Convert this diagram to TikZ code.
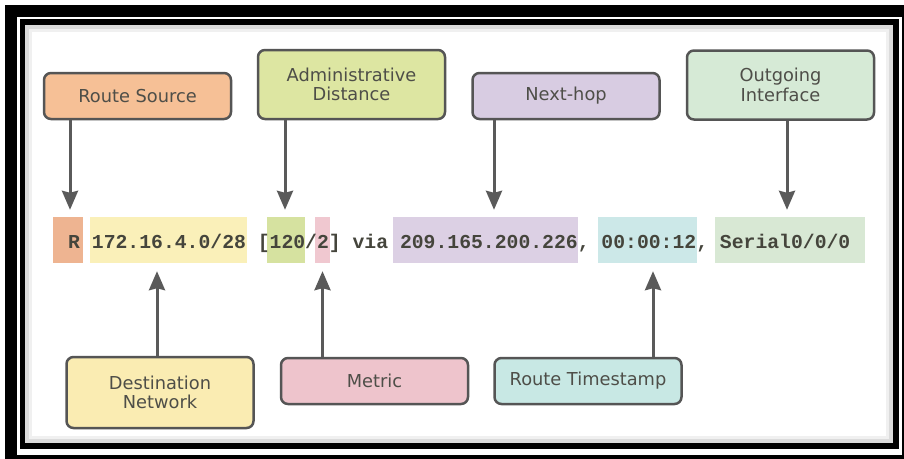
\documentclass[tikz,border=0pt]{standalone}
\usepackage{fontspec}
\setmainfont{DejaVu Sans}
\newfontfamily\codefont{Liberation Mono}
\usetikzlibrary{arrows.meta}

\definecolor{boxline}{HTML}{555555}
\definecolor{arrowgray}{HTML}{5A5A5A}
\definecolor{labeltext}{HTML}{4E4E48}
\definecolor{codetext}{HTML}{45453C}
% label boxes
\definecolor{srcfill}{HTML}{F6C096}
\definecolor{adfill}{HTML}{DDE6A2}
\definecolor{nhfill}{HTML}{D8CCE2}
\definecolor{oifill}{HTML}{D6EAD6}
\definecolor{dnfill}{HTML}{FAECB2}
\definecolor{metfill}{HTML}{EEC4CC}
\definecolor{tsfill}{HTML}{C8E8E4}
% highlights in the route line
\definecolor{hlsrc}{HTML}{EEB491}
\definecolor{hldn}{HTML}{FAF0B9}
\definecolor{hlad}{HTML}{D6E2A0}
\definecolor{hlmet}{HTML}{F0C8D0}
\definecolor{hlnh}{HTML}{DCD0E4}
\definecolor{hlts}{HTML}{CCE8E8}
\definecolor{hloi}{HTML}{D8E8D4}

\begin{document}
\begin{tikzpicture}[x=1pt, y=-1pt,
    lbl/.style={draw=boxline, line width=2.5pt, rounded corners=7pt,
      minimum width=187pt, minimum height=46pt, align=center,
      text=labeltext, font=\fontsize{17.8}{19.5}\selectfont},
    tall/.style={minimum height=69pt},
    hl/.style={minimum height=46pt, inner sep=0pt},
    arr/.style={draw=arrowgray, line width=3pt,
      -{Stealth[width=16pt, length=19pt, inset=2pt]}}]
  \useasboundingbox (0,0) rectangle (904,458);
  \clip (0,0) rectangle (904,458);
  \fill[white] (0,0) rectangle (904,458);

  % Frame
  \draw[line width=12pt] (11,10.5) rectangle (908,461);
  \draw[line width=6pt] (22.5,22) rectangle (895.5,446);
  \draw[line width=4pt, black!14] (27,27) rectangle (891,441);
  \draw[line width=3pt, black!6] (30.5,30.5) rectangle (887.5,437.5);

  % Highlights behind the route line
  \node[hl, fill=hlsrc, minimum width=30pt] (hlR) at (68,240) {};
  \node[hl, fill=hldn, minimum width=157pt] (hlDN) at (168.5,240) {};
  \node[hl, fill=hlad, minimum width=38pt] (hlAD) at (286,240) {};
  \node[hl, fill=hlmet, minimum width=15pt] (hlMet) at (322.5,240) {};
  \node[hl, fill=hlnh, minimum width=185pt] (hlNH) at (485.5,240) {};
  \node[hl, fill=hlts, minimum width=99pt] (hlTS) at (647.5,240) {};
  \node[hl, fill=hloi, minimum width=150pt] (hlOI) at (790,240) {};

  % Route line
  \node[anchor=base west, inner sep=0pt, text=codetext,
    font=\codefont\fontsize{19.75}{22}\selectfont\bfseries] (route) at (68,248)
    {R 172.16.4.0/28 [120/2] via 209.165.200.226, 00:00:12, Serial0/0/0};

  % Labels above
  \node[lbl, fill=srcfill] (src) at (137.5,96) {Route Source};
  \node[lbl, tall, fill=adfill] (ad) at (351.5,84.5) {Administrative\\Distance};
  \node[lbl, fill=nhfill] (nh) at (566,96) {Next-hop};
  \node[lbl, tall, fill=oifill] (oi) at (780.5,85) {Outgoing\\Interface};

  % Labels below
  \node[lbl, minimum height=71pt, fill=dnfill] (dn) at (160,392.5) {Destination\\Network};
  \node[lbl, fill=metfill] (met) at (374.5,381) {Metric};
  \node[lbl, fill=tsfill] (ts) at (588,381) {Route Timestamp};

  % Arrow tips
  \coordinate (srcT) at ([xshift=2pt, yshift=7pt]hlR.north);
  \coordinate (adT) at ([xshift=-1pt, yshift=7pt]hlAD.north);
  \coordinate (nhT) at ([xshift=8.5pt, yshift=7pt]hlNH.north);
  \coordinate (oiT) at ([xshift=-3pt, yshift=7pt]hlOI.north);
  \coordinate (dnT) at ([xshift=-11.5pt, yshift=-8pt]hlDN.south);
  \coordinate (metT) at ([yshift=-8pt]hlMet.south);
  \coordinate (tsT) at ([xshift=5.5pt, yshift=-8pt]hlTS.south);

  % Draw arrows
  \draw[arr] (src.south -| srcT) -- (srcT);
  \draw[arr] (ad.south -| adT) -- (adT);
  \draw[arr] (nh.south -| nhT) -- (nhT);
  \draw[arr] (oi.south -| oiT) -- (oiT);
  \draw[arr] (dn.north -| dnT) -- (dnT);
  \draw[arr] (met.north -| metT) -- (metT);
  \draw[arr] (ts.north -| tsT) -- (tsT);
\end{tikzpicture}
\end{document}
